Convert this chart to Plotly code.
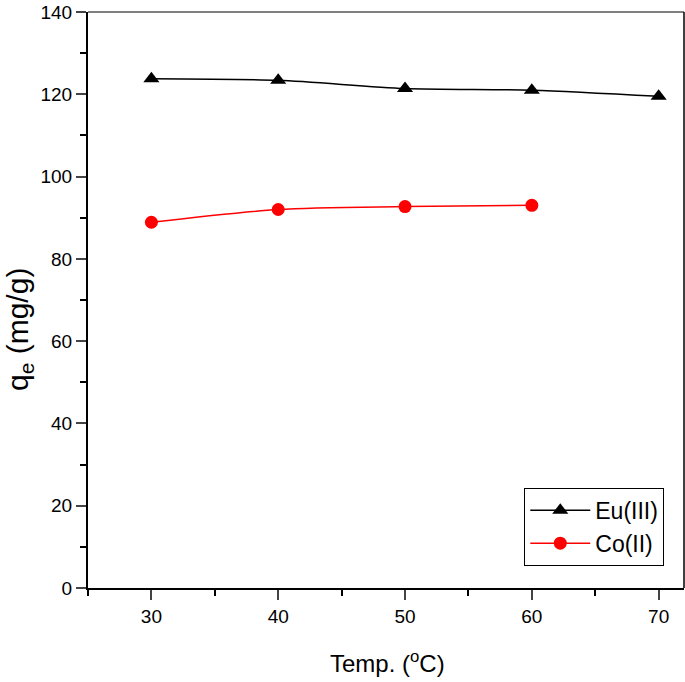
import plotly.graph_objects as go

temps_eu = [30, 40, 50, 60, 70]
qe_eu = [123.8, 123.4, 121.4, 121.0, 119.5]
temps_co = [30, 40, 50, 60]
qe_co = [88.9, 92.0, 92.7, 93.0]

x_ticks = [30, 40, 50, 60, 70]
y_ticks = [0, 20, 40, 60, 80, 100, 120, 140]

FONT = "Liberation Sans, Arial, sans-serif"

fig = go.Figure()
fig.add_trace(go.Scatter(
    x=temps_eu, y=qe_eu, name="Eu(III)", mode="lines+markers",
    line=dict(color="black", width=1.5, shape="spline", smoothing=0.8),
    marker=dict(symbol="triangle-up", size=14, color="black"),
))
fig.add_trace(go.Scatter(
    x=temps_co, y=qe_co, name="Co(II)", mode="lines+markers",
    line=dict(color="#ff0000", width=1.5, shape="spline", smoothing=0.8),
    marker=dict(symbol="circle", size=13, color="#ff0000"),
))

fig.update_layout(
    width=685, height=682,
    margin=dict(l=88, r=1, t=12, b=94),
    paper_bgcolor="white", plot_bgcolor="white",
    font=dict(family=FONT, color="black", size=19),
    showlegend=True,
    legend=dict(
        x=0.732, y=0.174, xanchor="left", yanchor="top",
        bordercolor="black", borderwidth=1, bgcolor="white",
        font=dict(size=23, family=FONT),
        tracegroupgap=0, itemwidth=60,
    ),
)
fig.update_xaxes(
    range=[25, 72], tickvals=x_ticks, ticks="outside", ticklen=10, tickwidth=2,
    showline=True, linecolor="black", linewidth=2, showgrid=False, zeroline=False,
    minor=dict(dtick=5, tick0=25, ticks="outside", ticklen=6, tickwidth=2, tickcolor="black"),
    tickfont=dict(size=19),
)
fig.update_yaxes(
    range=[0, 140], tickvals=y_ticks, ticks="outside", ticklen=10, tickwidth=2,
    showline=True, linecolor="black", linewidth=2, showgrid=False, zeroline=False,
    minor=dict(dtick=10, ticks="outside", ticklen=6, tickwidth=2, tickcolor="black"),
    tickfont=dict(size=19),
)
# axis titles as annotations (positioned like the reference)
fig.add_annotation(text="Temp. (<sup>o</sup>C)", xref="paper", yref="paper",
                   x=(387 - 88) / 596, y=-(662 - 588) / 576, xanchor="center", yanchor="middle",
                   showarrow=False, font=dict(size=24, family=FONT))
fig.add_annotation(text="q<sub>e</sub> (mg/g)", xref="paper", yref="paper",
                   x=-(88 - 20) / 596, y=(588 - 330) / 576, xanchor="center", yanchor="middle",
                   textangle=-90, showarrow=False, font=dict(size=30, family=FONT))
# top and right frame lines
fig.add_shape(type="line", xref="paper", yref="paper", x0=0, x1=1, y0=1, y1=1,
              line=dict(color="black", width=1))
fig.add_shape(type="line", xref="paper", yref="paper", x0=1, x1=1, y0=0, y1=1,
              line=dict(color="black", width=1.5))

fig.write_html("out.html", config={"displayModeBar": False},
               post_script="document.body.style.margin='0';document.body.style.overflow='hidden';")
